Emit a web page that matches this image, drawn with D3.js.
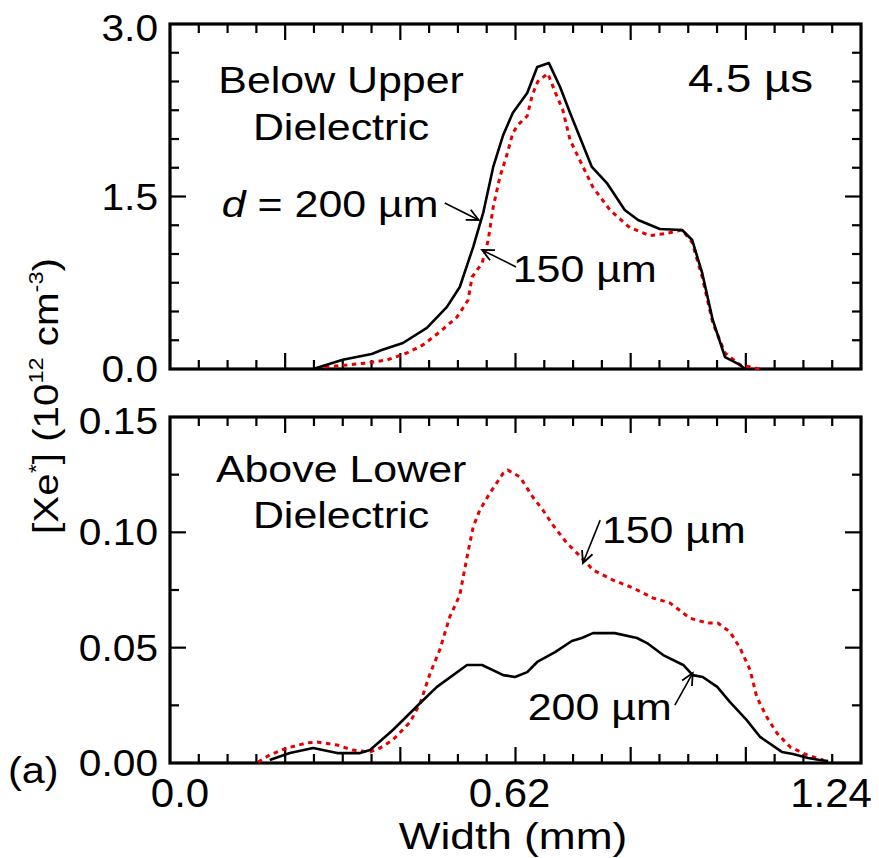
<!DOCTYPE html>
<html><head><meta charset="utf-8">
<script src="https://cdn.jsdelivr.net/npm/d3@7/dist/d3.min.js"></script>
<style>body{margin:0;background:#fff}svg{display:block}text{font-family:"Liberation Sans",Arial,sans-serif;fill:#000}</style>
</head><body><svg id="c" width="879" height="858"></svg>
<script>
// ---- data ----
const topX200 = [0.257,0.310,0.362,0.380,0.418,0.461,0.497,0.520,0.544,0.562,0.580,0.598,0.615,0.641,0.659,0.680,0.700,0.718,0.757,0.784,0.816,0.840,0.879,0.919,0.937,0.955,0.974,0.996,1.023,1.032];
const topY200 = [0.00,0.08,0.13,0.165,0.226,0.357,0.54,0.713,1.06,1.357,1.757,2.035,2.226,2.40,2.626,2.66,2.452,2.226,1.757,1.617,1.383,1.296,1.217,1.209,1.122,0.835,0.426,0.104,0.035,0.0];
const topX150 = [0.278,0.318,0.353,0.389,0.425,0.454,0.484,0.515,0.535,0.542,0.560,0.571,0.580,0.592,0.605,0.615,0.624,0.641,0.650,0.660,0.678,0.691,0.705,0.718,0.736,0.759,0.790,0.825,0.861,0.892,0.919,0.937,0.955,0.974,0.996,1.023,1.059];
const topY150 = [0.017,0.035,0.052,0.078,0.139,0.209,0.322,0.452,0.60,0.80,0.92,1.12,1.41,1.67,1.87,2.05,2.12,2.20,2.38,2.50,2.57,2.41,2.25,1.99,1.81,1.58,1.38,1.23,1.16,1.18,1.209,1.10,0.80,0.40,0.14,0.035,0.0];
const botX200 = [0.179,0.215,0.257,0.300,0.341,0.359,0.400,0.449,0.479,0.533,0.560,0.598,0.619,0.641,0.659,0.691,0.721,0.739,0.759,0.798,0.838,0.856,0.885,0.921,0.938,0.956,0.982,1.005,1.035,1.059,1.098,1.118,1.145,1.166,1.181];
const botY200 = [0.0013,0.0043,0.0065,0.0043,0.0043,0.0056,0.0143,0.026,0.033,0.0425,0.0425,0.0381,0.0373,0.0394,0.0438,0.0481,0.0529,0.0542,0.0563,0.0563,0.0542,0.052,0.0468,0.0425,0.0381,0.0373,0.033,0.0264,0.0186,0.0113,0.0048,0.0039,0.0022,0.0013,0.0009];
const botX150 = [0.158,0.179,0.210,0.246,0.264,0.300,0.328,0.359,0.377,0.400,0.431,0.449,0.467,0.484,0.502,0.520,0.533,0.544,0.556,0.574,0.598,0.606,0.628,0.651,0.669,0.687,0.712,0.739,0.759,0.795,0.831,0.867,0.897,0.933,0.964,0.983,1.005,1.023,1.041,1.053,1.071,1.089,1.113,1.143,1.172];
const botY150 = [0.0004,0.0035,0.0065,0.0087,0.0091,0.0078,0.0056,0.0048,0.0065,0.0100,0.0178,0.026,0.039,0.049,0.0633,0.0728,0.0893,0.1023,0.1097,0.117,0.1257,0.127,0.124,0.1153,0.1097,0.1032,0.0954,0.0889,0.0837,0.0793,0.0759,0.0715,0.0694,0.0628,0.0607,0.0607,0.0568,0.0498,0.0403,0.0286,0.0199,0.013,0.0069,0.0035,0.0013];
const xTickLabels = ["0.0","0.62","1.24"];
const xTickValues = [0, 0.62, 1.24];
const topTickLabels = ["0.0","1.5","3.0"];
const topTickValues = [0, 1.5, 3.0];
const botTickLabels = ["0.00","0.05","0.10","0.15"];
const botTickValues = [0, 0.05, 0.10, 0.15];

// ---- layout ----
const L = 170, R = 861;
const svg = d3.select("#c");
const x = d3.scaleLinear().domain([0, 1.24]).range([L, R]);
const yT = d3.scaleLinear().domain([0, 3]).range([369, 24]);
const yB = d3.scaleLinear().domain([0, 0.15]).range([763, 417]);
const RED = "#e60000";

function txt(px, py, str, size, anchor, sx) {
  const t = svg.append("text")
    .attr("transform", `translate(${px},${py}) scale(${sx},1)`)
    .attr("text-anchor", anchor).style("font-size", size + "px");
  t.text(str);
  return t;
}

function panel(y, yticks, ylabels, minorStep) {
  const g = svg.append("g");
  const top = y.range()[1], bot = y.range()[0];
  const xt = d3.range(1, 24).map(i => i * 1.24 / 24);
  xt.forEach((v, i) => {
    const len = ((i + 1) % 4 === 0) ? 16 : 9;
    g.append("line").attr("x1", x(v)).attr("x2", x(v)).attr("y1", bot).attr("y2", bot - len).attr("stroke", "#000").attr("stroke-width", 2.2);
    g.append("line").attr("x1", x(v)).attr("x2", x(v)).attr("y1", top).attr("y2", top + len).attr("stroke", "#000").attr("stroke-width", 2.2);
  });
  const d = y.domain();
  const n = Math.round((d[1] - d[0]) / minorStep);
  d3.range(1, n).forEach(i => {
    const v = d[0] + i * minorStep;
    const major = yticks.some(t => Math.abs(t - v) < 1e-9);
    const len = major ? 16 : 9;
    g.append("line").attr("x1", L).attr("x2", L + len).attr("y1", y(v)).attr("y2", y(v)).attr("stroke", "#000").attr("stroke-width", 2.2);
    g.append("line").attr("x1", R).attr("x2", R - len).attr("y1", y(v)).attr("y2", y(v)).attr("stroke", "#000").attr("stroke-width", 2.2);
  });
  g.append("rect").attr("x", L).attr("y", top).attr("width", R - L).attr("height", bot - top)
    .attr("fill", "none").attr("stroke", "#000").attr("stroke-width", 3.2);
  yticks.forEach((v, i) => {
    let by = y(v) + 13;
    if (i === yticks.length - 1) by = y(v) + 17;
    txt(158, by, ylabels[i], 36, "end", 1.13);
  });
}

panel(yT, topTickValues, topTickLabels, 0.25);
panel(yB, botTickValues, botTickLabels, 0.025);

function curve(xs, ys, y, color, dash, w) {
  const pts = xs.map((v, i) => [v, ys[i]]);
  svg.append("path").datum(pts)
    .attr("d", d3.line().x(p => x(p[0])).y(p => y(p[1])))
    .attr("fill", "none").attr("stroke", color).attr("stroke-width", w)
    .attr("stroke-dasharray", dash).attr("stroke-linejoin", "round");
}
curve(topX150, topY150, yT, RED, "4.5,4.5", 3);
curve(topX200, topY200, yT, "#000", null, 2.6);
curve(botX150, botY150, yB, RED, "4.5,4.5", 3);
curve(botX200, botY200, yB, "#000", null, 2.6);

// x tick labels
const xOff = [10, -6, -30];
xTickValues.forEach((v, i) => txt(x(v) + xOff[i], 807, xTickLabels[i], 40, "middle", 1.05));
txt(513, 849, "Width (mm)", 36, "middle", 1.23);

// y title
const yt = svg.append("text").attr("transform", "translate(58,396) rotate(-90) scale(1.12,1)")
  .attr("text-anchor", "middle").style("font-size", "36px");
yt.append("tspan").text("[Xe");
yt.append("tspan").attr("dy", -15).style("font-size", "21px").text("*");
yt.append("tspan").attr("dy", 15).text("] (10");
yt.append("tspan").attr("dy", -15).style("font-size", "21px").text("12");
yt.append("tspan").attr("dy", 15).text(" cm");
yt.append("tspan").attr("dy", -15).style("font-size", "21px").text("-3");
yt.append("tspan").attr("dy", 15).text(")");

// (a)
txt(8, 783, "(a)", 37, "start", 1.12);

// annotations
txt(x(0.307), yT(2.40), "Below Upper", 37, "middle", 1.16);
txt(x(0.307), yT(1.99), "Dielectric", 37, "middle", 1.16);
const dt = svg.append("text").attr("transform", `translate(${x(0.093)},${yT(1.32)}) scale(1.16,1)`).style("font-size", "37px");
dt.append("tspan").style("font-style", "italic").text("d");
dt.append("tspan").text(" = 200 \u00b5m");
txt(x(0.615), yT(0.757), "150 \u00b5m", 37, "start", 1.16);
txt(x(1.154), yT(2.41), "4.5 \u00b5s", 38, "end", 1.2);
txt(x(0.307), yB(0.1218), "Above Lower", 37, "middle", 1.16);
txt(x(0.307), yB(0.1019), "Dielectric", 37, "middle", 1.16);
txt(x(0.775), yB(0.0954), "150 \u00b5m", 37, "start", 1.16);
txt(x(0.642), yB(0.0186), "200 \u00b5m", 37, "start", 1.16);

function arrow(x0, y0, x1, y1, y) {
  const ax = x(x0), ay = y(y0), bx = x(x1), by = y(y1);
  svg.append("line").attr("x1", ax).attr("y1", ay).attr("x2", bx).attr("y2", by).attr("stroke", "#000").attr("stroke-width", 1.6);
  const ang = Math.atan2(by - ay, bx - ax), len = 13, spread = 0.45;
  const p = [[bx - len * Math.cos(ang - spread), by - len * Math.sin(ang - spread)], [bx, by], [bx - len * Math.cos(ang + spread), by - len * Math.sin(ang + spread)]];
  svg.append("path").attr("d", d3.line()(p)).attr("fill", "none").attr("stroke", "#000").attr("stroke-width", 1.8);
}
arrow(0.493, 1.443, 0.554, 1.296, yT);
arrow(0.621, 0.887, 0.560, 1.035, yT);
arrow(0.772, 0.1053, 0.741, 0.0867, yB);
arrow(0.906, 0.0251, 0.938, 0.0390, yB);
</script></body></html>
